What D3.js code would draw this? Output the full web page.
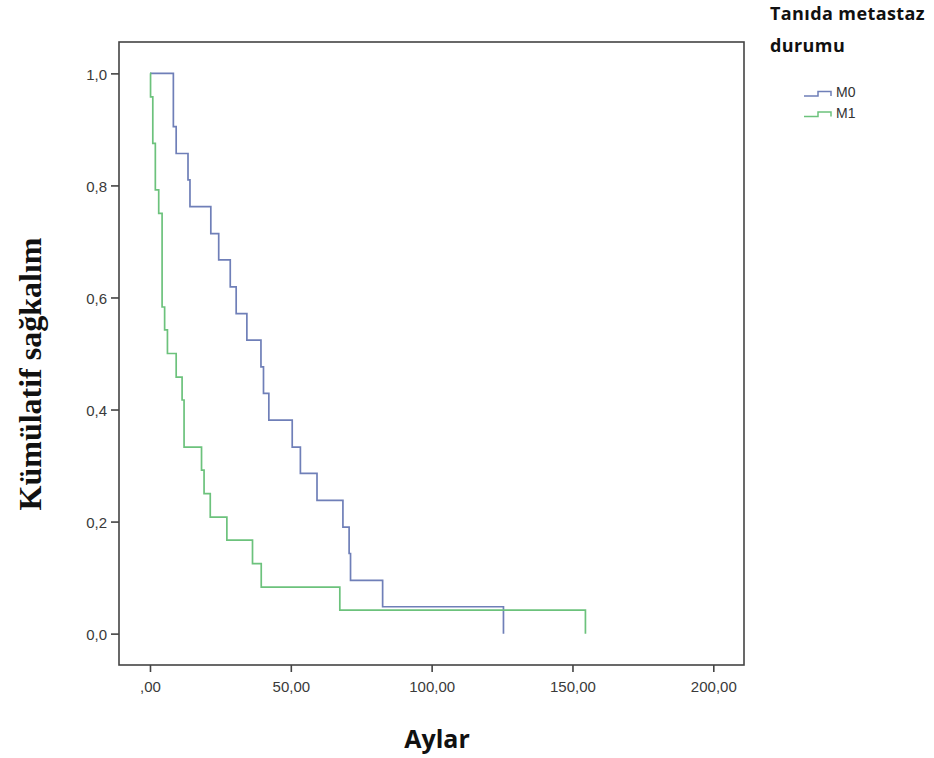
<!DOCTYPE html>
<html>
<head>
<meta charset="utf-8">
<script src="https://cdn.jsdelivr.net/npm/d3@7"></script>
<style>
  body { margin: 0; background: #fff; }
  svg { display: block; }
</style>
</head>
<body>
<svg id="chart" width="934" height="758"></svg>
<script>
// survival steps (time in months, survival after the event)
var m0Times    = [8.3, 9.3, 13.5, 14.2, 21.6, 24.4, 28.5, 30.6, 34.4, 39.4, 40.3, 42.2, 50.5, 53.4, 59.3, 68.5, 70.7, 71.2, 82.6, 125.5];
var m0Survival = [0.905, 0.857, 0.810, 0.762, 0.714, 0.667, 0.619, 0.571, 0.524, 0.476, 0.429, 0.381, 0.333, 0.286, 0.238, 0.190, 0.143, 0.095, 0.048, 0.0];

var m1Times    = [0.2, 1.0, 1.9, 3.1, 4.3, 5.2, 6.2, 9.3, 11.4, 12.1, 18.3, 19.2, 21.4, 27.3, 36.4, 39.5, 67.4, 154.6];
var m1Survival = [0.958, 0.875, 0.792, 0.750, 0.583, 0.542, 0.500, 0.458, 0.417, 0.333, 0.292, 0.250, 0.208, 0.167, 0.125, 0.083, 0.042, 0.0];

var groupNames  = ["M0", "M1"];
var groupColors = ["#6f7fb8", "#6cc27c"];

var xTickValues = [0, 50, 100, 150, 200];
var xTickLabels = [",00", "50,00", "100,00", "150,00", "200,00"];
var yTickValues = [0, 0.2, 0.4, 0.6, 0.8, 1.0];
var yTickLabels = ["0,0", "0,2", "0,4", "0,6", "0,8", "1,0"];

var legendTitle = ["Tanıda metastaz", "durumu"];
var xTitle = "Aylar";
var yTitle = "Kümülatif sağkalım";

// plot frame
var frame = {left: 119, right: 744, top: 42, bottom: 665};

var svg = d3.select("#chart");

var x = d3.scaleLinear().domain([-11, 210.9]).range([frame.left, frame.right]);
var y = d3.scaleLinear().domain([-0.056, 1.056]).range([frame.bottom, frame.top]);

// turn the event lists into step points, starting at (0, 1)
function stepPoints(times, survival) {
  var pts = [[0, 1]];
  times.forEach(function (t, i) { pts.push([t, survival[i]]); });
  return pts;
}

var series = [
  {name: groupNames[0], color: groupColors[0], points: stepPoints(m0Times, m0Survival)},
  {name: groupNames[1], color: groupColors[1], points: stepPoints(m1Times, m1Survival)}
];

// frame
svg.append("rect")
  .attr("x", frame.left)
  .attr("y", frame.top)
  .attr("width", frame.right - frame.left)
  .attr("height", frame.bottom - frame.top)
  .attr("fill", "none")
  .attr("stroke", "#444")
  .attr("stroke-width", 1.6);

// axes
var xAxis = d3.axisBottom(x)
  .tickValues(xTickValues)
  .tickSize(7)
  .tickSizeOuter(0)
  .tickFormat(function (d, i) { return xTickLabels[i]; });

var yAxis = d3.axisLeft(y)
  .tickValues(yTickValues)
  .tickSize(8)
  .tickSizeOuter(0)
  .tickFormat(function (d, i) { return yTickLabels[i]; });

var gx = svg.append("g")
  .attr("transform", "translate(0," + frame.bottom + ")")
  .call(xAxis);
var gy = svg.append("g")
  .attr("transform", "translate(" + frame.left + ",0)")
  .call(yAxis);

[gx, gy].forEach(function (g) {
  g.select(".domain").remove();
  g.selectAll(".tick line").attr("stroke", "#444").attr("stroke-width", 1.6);
  g.selectAll(".tick text")
    .attr("fill", "#3a3a3a")
    .style("font-family", "'Liberation Sans', Arial, sans-serif")
    .style("font-size", "15px");
});
gx.selectAll(".tick text").attr("y", 27).attr("dy", 0);
gy.selectAll(".tick text").attr("x", -12).attr("dy", "0.4em");

// survival curves
var line = d3.line()
  .x(function (d) { return x(d[0]); })
  .y(function (d) { return y(d[1]); })
  .curve(d3.curveStepAfter);

svg.selectAll("path.km")
  .data(series)
  .enter()
  .append("path")
  .attr("class", "km")
  .attr("d", function (d) { return line(d.points); })
  .attr("fill", "none")
  .attr("stroke", function (d) { return d.color; })
  .attr("stroke-width", 1.7);

// axis titles
svg.append("text")
  .attr("x", 437)
  .attr("y", 748)
  .attr("text-anchor", "middle")
  .style("font-family", "'Open Sans', Lato, sans-serif")
  .style("font-weight", "700")
  .style("font-size", "25px")
  .attr("fill", "#111")
  .text(xTitle);

svg.append("text")
  .attr("transform", "translate(41,374) rotate(-90)")
  .attr("text-anchor", "middle")
  .style("font-family", "'Liberation Serif', 'Times New Roman', serif")
  .style("font-weight", "700")
  .style("font-size", "32px")
  .attr("fill", "#111")
  .text(yTitle);

// legend
var legend = svg.append("g");

legend.selectAll("text.title")
  .data(legendTitle)
  .enter()
  .append("text")
  .attr("class", "title")
  .attr("x", 770)
  .attr("y", function (d, i) { return 20 + i * 32; })
  .style("font-family", "'Open Sans', Lato, sans-serif")
  .style("font-weight", "700")
  .style("font-size", "18px")
  .style("letter-spacing", "0.4px")
  .attr("fill", "#111")
  .text(function (d) { return d; });

var item = legend.selectAll("g.item")
  .data(series)
  .enter()
  .append("g")
  .attr("class", "item")
  .attr("transform", function (d, i) { return "translate(804," + (96 + i * 20.5) + ")"; });

item.append("path")
  .attr("d", "M0,0 H14 V-4.5 H27 V0")
  .attr("fill", "none")
  .attr("stroke", function (d) { return d.color; })
  .attr("stroke-width", 1.5);

item.append("text")
  .attr("x", 32)
  .attr("y", 0)
  .attr("dy", "0.1em")
  .style("font-family", "'Liberation Sans', Arial, sans-serif")
  .style("font-size", "14px")
  .attr("fill", "#333")
  .text(function (d) { return d.name; });
</script>
</body>
</html>
